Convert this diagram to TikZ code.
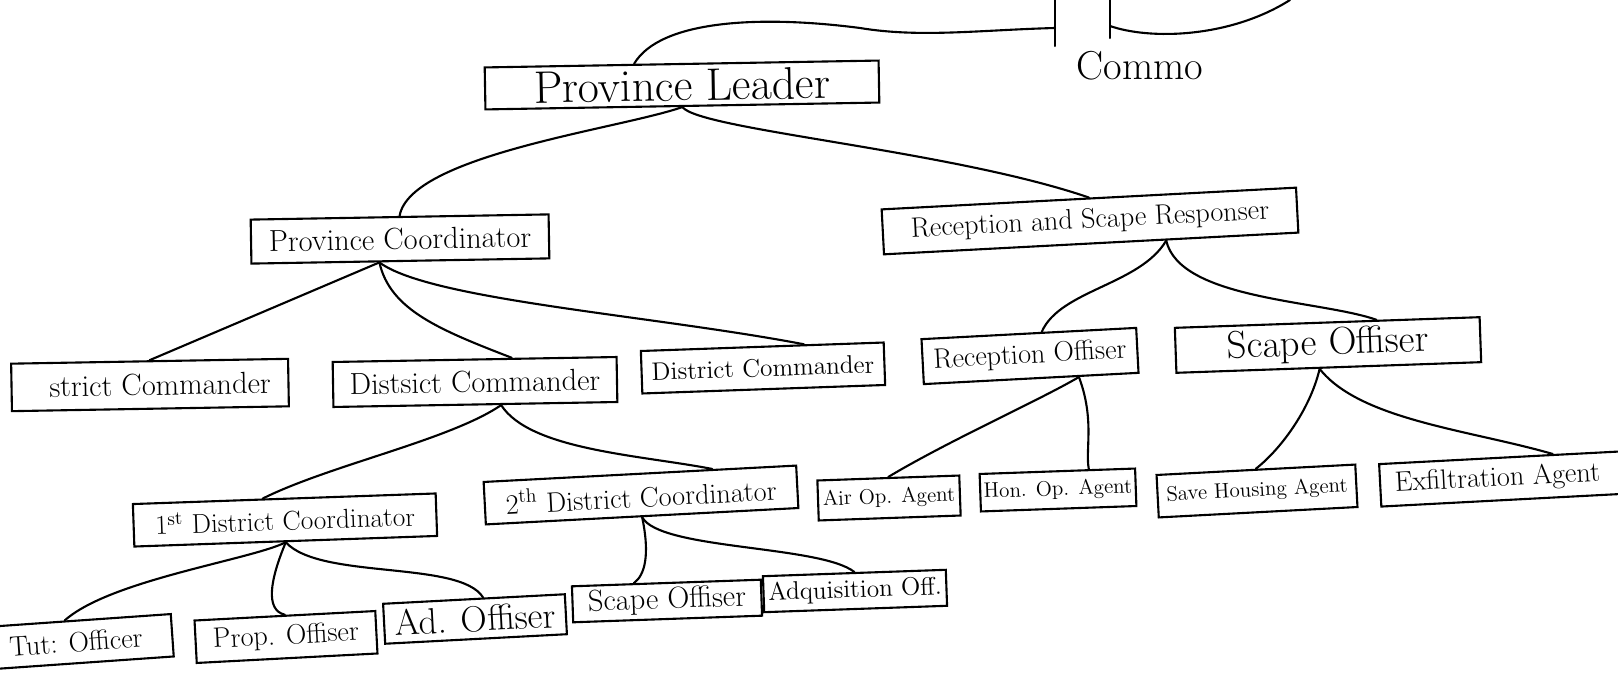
\documentclass[tikz,border=0pt]{standalone}
\usepackage{amsmath}
\usepackage{fontspec}
\usepackage{tikz}
\usetikzlibrary{calc}
\tikzstyle{postbox} = [draw=black, very thick, rectangle, inner xsep=2pt, inner ysep=1pt, font=\large]
\tikzstyle{tieline} = [very thick, line cap=round]
\newcommand{\fs}[1]{\fontsize{#1}{#1}\selectfont}

\begin{document}
\begin{tikzpicture}[x=0.02cm, y=-0.02cm]
\clip (0,0) rectangle (1618,678);
\useasboundingbox (0,0) rectangle (1618,678);
\fill[white] (0,0) rectangle (1618,678);

% upper levels
\node[postbox, font=\fs{26}, minimum width=7.88cm, minimum height=0.84cm, rotate=1] (lead) at (682,85) {Province Leader};
\node[font=\fs{23}] (commo) at (1140,66) {Commo};
\node[postbox, font=\LARGE, minimum width=5.96cm, minimum height=0.88cm, rotate=1] (pcoord) at (400,239) {Province Coordinator};
\node[postbox, font=\fs{16}, minimum width=8.3cm, minimum height=0.9cm, rotate=3] (respons) at (1090,221) {Reception and Scape Responser};

% district commanders and officers
\node[postbox, font=\LARGE, minimum width=5.54cm, minimum height=0.95cm, rotate=1] (dcoma) at (150,385) {\hspace*{0.4cm}strict Commander};
\node[postbox, font=\LARGE, minimum width=5.68cm, minimum height=0.9cm, rotate=1] (dcomb) at (475,382) {Distsict Commander};
\node[postbox, font=\Large, minimum width=4.86cm, minimum height=0.85cm, rotate=2] (dcomc) at (763,368) {District Commander};
\node[postbox, font=\fs{16}, minimum width=4.3cm, minimum height=0.9cm, rotate=3] (recoff) at (1030,356) {Reception Offiser};
\node[postbox, font=\fs{22}, minimum width=6.1cm, minimum height=0.9cm, rotate=2] (scoff) at (1328,345) {Scape Offiser};

% coordinators and agents
\node[postbox, font=\fs{15.5}, minimum width=6.06cm, minimum height=0.85cm, rotate=2] (dcorda) at (285,520) {1$^{\text{st}}$ District Coordinator};
\node[postbox, font=\fs{16}, minimum width=6.26cm, minimum height=0.85cm, rotate=3] (dcordb) at (641,495) {2$^{\text{th}}$ District Coordinator};
\node[postbox, minimum width=2.84cm, minimum height=0.8cm, rotate=2] (airag) at (889,498) {Air Op. Agent};
\node[postbox, minimum width=3.1cm, minimum height=0.75cm, rotate=2] (honag) at (1058,490) {Hon. Op. Agent};
\node[postbox, minimum width=3.98cm, minimum height=0.85cm, rotate=3] (saveag) at (1257,491) {Save Housing Agent};
\node[postbox, font=\fs{16}, minimum width=5.6cm, minimum height=0.85cm, rotate=3] (exfag) at (1520,478) {Exfiltration Agent\hspace*{0.9cm}};

% bottom row
\node[postbox, font=\fs{16}, minimum width=3.86cm, minimum height=0.85cm, rotate=4] (tutoff) at (76,642) {Tut: Officer};
\node[postbox, font=\fs{16}, minimum width=3.62cm, minimum height=0.85cm, rotate=3] (propoff) at (286,637) {Prop. Offiser};
\node[postbox, font=\huge, minimum width=3.64cm, minimum height=0.8cm, rotate=3] (adoff) at (475,619) {Ad. Offiser};
\node[postbox, font=\LARGE, minimum width=3.78cm, minimum height=0.72cm, rotate=2] (scoffb) at (667,601) {Scape Offiser};
\node[postbox, font=\Large, minimum width=3.66cm, minimum height=0.72cm, rotate=2] (adqoff) at (855,591) {Adquisition Off.};

% lines at the top
\coordinate (bara) at (1055,0);
\coordinate (barb) at (1110,0);
\draw[tieline] (bara) -- (1055,46);
\draw[tieline] (barb) -- (1110,38);
\draw[tieline] ($(lead.north west)!0.38!(lead.north east)$) .. controls (660,20) and (760,15) .. (860,28)
  .. controls (920,38) and (980,30) .. (1055,28);
\draw[tieline] (1110,26) .. controls (1150,40) and (1230,38) .. (1290,0);

% connectors
\draw[tieline] (lead.south) .. controls (620,129) and (410,155) .. (pcoord.north);
\draw[tieline] (lead.south) .. controls (700,130) and (950,150) .. (respons.north);

\coordinate (pcfoot) at ($(pcoord.south west)!0.43!(pcoord.south east)$);
\draw[tieline] (pcfoot) -- (dcoma.north);
\draw[tieline] (pcfoot) .. controls (390,310) and (440,330) .. ($(dcomb.north west)!0.63!(dcomb.north east)$);
\draw[tieline] (pcfoot) .. controls (430,300) and (650,315) .. ($(dcomc.north west)!0.67!(dcomc.north east)$);

\coordinate (dcfoot) at ($(dcomb.south west)!0.59!(dcomb.south east)$);
\draw[tieline] (dcfoot) .. controls (450,440) and (330,465) .. ($(dcorda.north west)!0.43!(dcorda.north east)$);
\draw[tieline] (dcfoot) .. controls (530,450) and (640,455) .. ($(dcordb.north west)!0.73!(dcordb.north east)$);

\coordinate (rsfoot) at ($(respons.south west)!0.68!(respons.south east)$);
\draw[tieline] (rsfoot) .. controls (1140,285) and (1060,290) .. ($(recoff.north west)!0.56!(recoff.north east)$);
\draw[tieline] (rsfoot) .. controls (1180,300) and (1320,300) .. ($(scoff.north west)!0.66!(scoff.north east)$);

\coordinate (rofoot) at ($(recoff.south west)!0.72!(recoff.south east)$);
\draw[tieline] (rofoot) .. controls (1040,400) and (950,440) .. (airag.north);
\draw[tieline] (rofoot) .. controls (1095,420) and (1085,450) .. ($(honag.north west)!0.7!(honag.north east)$);

\coordinate (sofoot) at ($(scoff.south west)!0.47!(scoff.south east)$);
\draw[tieline] (sofoot) .. controls (1310,410) and (1280,450) .. (saveag.north);
\draw[tieline] (sofoot) .. controls (1360,420) and (1470,430) .. ($(exfag.north west)!0.62!(exfag.north east)$);

\draw[tieline] (dcorda.south) .. controls (250,560) and (110,580) .. ($(tutoff.north west)!0.45!(tutoff.north east)$);
\draw[tieline] (dcorda.south) .. controls (270,580) and (265,610) .. (propoff.north);
\draw[tieline] (dcorda.south) .. controls (320,580) and (460,560) .. ($(adoff.north west)!0.55!(adoff.north east)$);

\draw[tieline] (dcordb.south) .. controls (650,555) and (645,575) .. ($(scoffb.north west)!0.33!(scoffb.north east)$);
\draw[tieline] (dcordb.south) .. controls (660,550) and (820,545) .. (adqoff.north);
\end{tikzpicture}
\end{document}
